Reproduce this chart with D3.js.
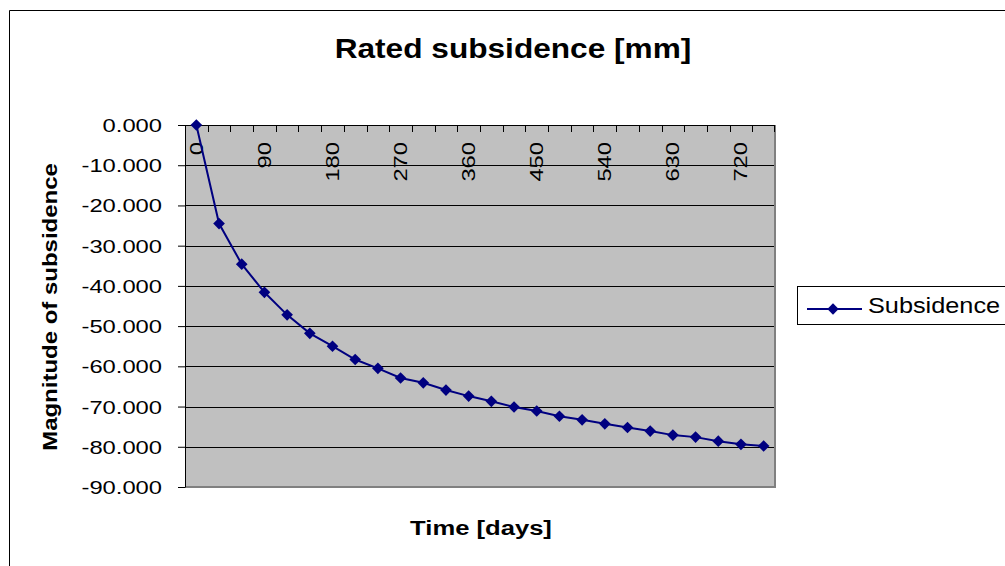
<!DOCTYPE html>
<html>
<head>
<meta charset="utf-8">
<script src="https://cdn.jsdelivr.net/npm/d3@7"></script>
<style>
  body { margin: 0; background: #fff; }
  svg { display: block; font-family: "Liberation Sans", Arial, sans-serif; }
</style>
</head>
<body>
<div id="chart"></div>
<script>
// data
const days = [0, 30, 60, 90, 120, 150, 180, 210, 240, 270, 300, 330, 360,
  390, 420, 450, 480, 510, 540, 570, 600, 630, 660, 690, 720, 750]
const subsidence = [0, -24.5, -34.6, -41.6, -47.2, -51.8, -55.0, -58.3, -60.5,
  -62.9, -64.1, -65.9, -67.4, -68.7, -70.1, -71.1, -72.4, -73.3, -74.3,
  -75.2, -76.1, -77.1, -77.6, -78.6, -79.4, -79.8]
const xLabels = [0, 90, 180, 270, 360, 450, 540, 630, 720]
const yTicks = [0, -10, -20, -30, -40, -50, -60, -70, -80, -90]

const width = 1005
const height = 566
const plot = {left: 185, right: 775, top: 125, bottom: 487}
const navy = "#000080"
const stretch = 1.25

const svg = d3.select("#chart").append("svg")
    .attr("width", width)
    .attr("height", height)

// outer chart border
svg.append("path")
    .attr("d", `M9.5,${height} V10.5 H${width}`)
    .attr("fill", "none")
    .attr("stroke", "#000")

const x = d3.scaleBand()
    .domain(days)
    .range([plot.left, plot.right])
    .padding(0)

const y = d3.scaleLinear()
    .domain([0, -90])
    .range([plot.top, plot.bottom])

const fmt = d => d3.format(".3f")(d).replace("\u2212", "-")

// plot background
svg.append("rect")
    .attr("x", plot.left)
    .attr("y", plot.top)
    .attr("width", plot.right - plot.left)
    .attr("height", plot.bottom - plot.top)
    .attr("fill", "#c0c0c0")

// gridlines
svg.append("g")
    .selectAll("line")
    .data(yTicks.slice(1, -1))
    .join("line")
    .attr("x1", plot.left)
    .attr("x2", plot.right)
    .attr("y1", d => Math.round(y(d)) + 0.5)
    .attr("y2", d => Math.round(y(d)) + 0.5)
    .attr("stroke", "#000")

// plot border right + bottom (grey)
svg.append("path")
    .attr("d", `M${plot.right},${plot.top} V${plot.bottom} H${plot.left}`)
    .attr("fill", "none")
    .attr("stroke", "#808080")
    .attr("stroke-width", 2)

// y axis
const yAxis = svg.append("g")
    .attr("transform", `translate(${plot.left},0)`)
    .call(d3.axisLeft(y).tickValues(yTicks).tickFormat(fmt).tickSize(7).tickSizeOuter(0))
yAxis.select(".domain").attr("stroke", "#000")
yAxis.selectAll(".tick line").attr("stroke", "#000")
yAxis.selectAll(".tick text")
    .attr("x", -23 / stretch)
    .attr("dy", null)
    .attr("y", 6.5)
    .attr("font-size", 19)
    .attr("font-family", "Liberation Sans, Arial, sans-serif")
    .attr("fill", "#000")
    .attr("transform", `scale(${stretch},1)`)

// x axis at top (value 0), category ticks between points
svg.append("line")
    .attr("x1", plot.left)
    .attr("x2", plot.right)
    .attr("y1", y(0) + 0.5)
    .attr("y2", y(0) + 0.5)
    .attr("stroke", "#000")

svg.append("g")
    .selectAll("line")
    .data(days.concat(["end"]))
    .join("line")
    .attr("x1", d => d === "end" ? plot.right - 0.5 : Math.round(x(d)) + 0.5)
    .attr("x2", d => d === "end" ? plot.right - 0.5 : Math.round(x(d)) + 0.5)
    .attr("y1", y(0))
    .attr("y2", y(0) + 7)
    .attr("stroke", "#000")

svg.append("g")
    .selectAll("g")
    .data(xLabels)
    .join("g")
    .attr("transform", d => `translate(${x(d) + x.bandwidth() / 2 + 6.5},${y(0) + 17}) rotate(-90) scale(${stretch},1)`)
    .append("text")
    .attr("text-anchor", "end")
    .attr("font-size", 19)
    .text(d => d)

// line + markers
const line = d3.line()
    .x((d, i) => x(days[i]) + x.bandwidth() / 2)
    .y(d => y(d))

svg.append("path")
    .datum(subsidence)
    .attr("d", line)
    .attr("fill", "none")
    .attr("stroke", navy)
    .attr("stroke-width", 2)

const diamond = d3.symbol(d3.symbolSquare, 68)

svg.append("g")
    .selectAll("path")
    .data(subsidence)
    .join("path")
    .attr("d", diamond)
    .attr("transform", (d, i) => `translate(${x(days[i]) + x.bandwidth() / 2},${y(d)}) rotate(45)`)
    .attr("fill", navy)

// title
svg.append("g")
    .attr("transform", `translate(513,58) scale(1.13,1)`)
    .append("text")
    .attr("text-anchor", "middle")
    .attr("font-size", 28)
    .attr("font-weight", "bold")
    .text("Rated subsidence [mm]")

// axis titles
svg.append("g")
    .attr("transform", `translate(57,307) rotate(-90) scale(1.23,1)`)
    .append("text")
    .attr("text-anchor", "middle")
    .attr("font-size", 19.5)
    .attr("font-weight", "bold")
    .text("Magnitude of subsidence")

svg.append("g")
    .attr("transform", `translate(481,535) scale(1.22,1)`)
    .append("text")
    .attr("text-anchor", "middle")
    .attr("font-size", 21)
    .attr("font-weight", "bold")
    .text("Time [days]")

// legend
const legend = svg.append("g")
legend.append("rect")
    .attr("x", 797.5)
    .attr("y", 286.5)
    .attr("width", 220)
    .attr("height", 38)
    .attr("fill", "#fff")
    .attr("stroke", "#000")
legend.append("line")
    .attr("x1", 807)
    .attr("x2", 862)
    .attr("y1", 309)
    .attr("y2", 309)
    .attr("stroke", navy)
    .attr("stroke-width", 2)
legend.append("path")
    .attr("d", d3.symbol(d3.symbolSquare, 64))
    .attr("transform", "translate(833,309) rotate(45)")
    .attr("fill", navy)
legend.append("g")
    .attr("transform", "translate(868,313) scale(1.15,1)")
    .append("text")
    .attr("font-size", 22)
    .text("Subsidence")
</script>
</body>
</html>
